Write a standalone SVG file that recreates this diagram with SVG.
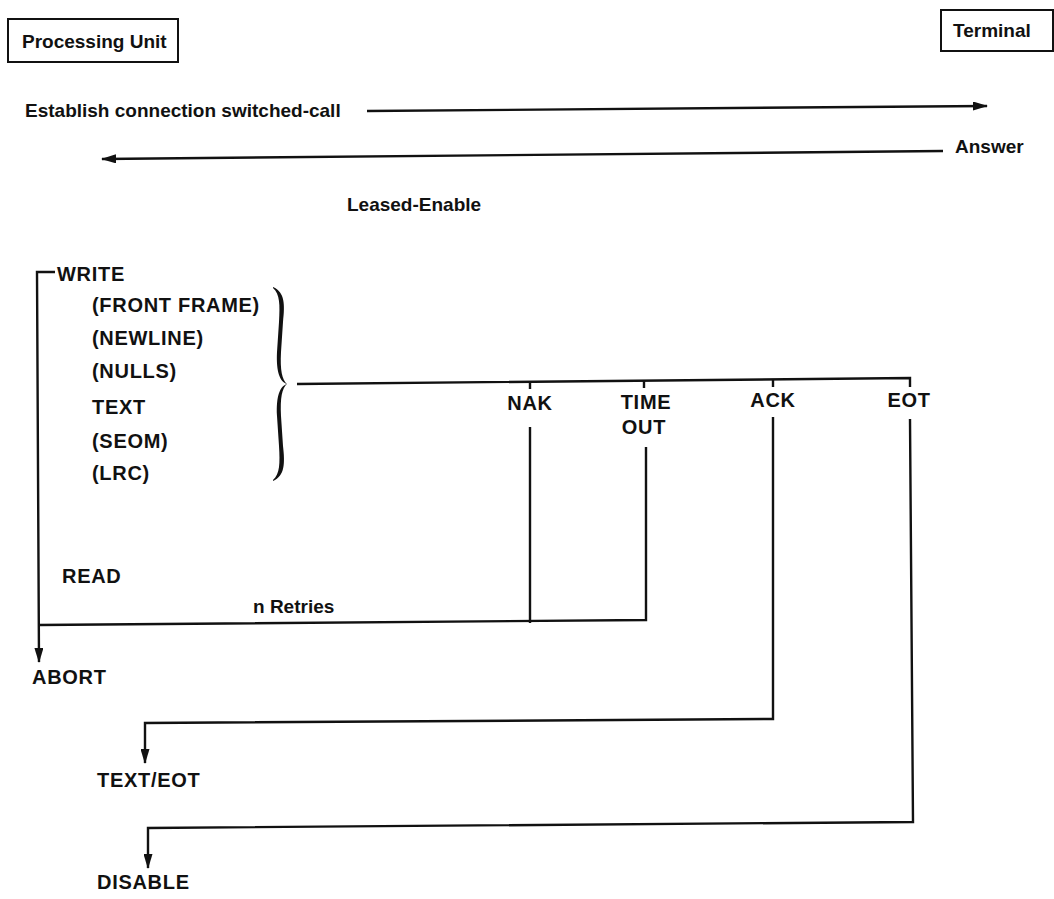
<svg xmlns="http://www.w3.org/2000/svg" width="1054" height="899" viewBox="0 0 1054 899">
<style>
.t{font-family:"Liberation Sans",Arial,Helvetica,sans-serif;font-weight:bold;font-size:19px;fill:#111}
.u{font-size:20px;letter-spacing:0.7px}
.c{text-anchor:middle}
.ln{fill:none;stroke:#111;stroke-width:2.4;stroke-linejoin:miter;stroke-linecap:butt}
.box{fill:#fff;stroke:#111;stroke-width:2}
</style>
<defs>
<marker id="ah" markerUnits="userSpaceOnUse" markerWidth="15" markerHeight="9" viewBox="0 0 15 9" refX="14" refY="4.5" orient="auto">
<path d="M0,0 L15,4.5 L0,9 Z" fill="#111"/>
</marker>
</defs>
<rect width="1054" height="899" fill="#fff"/>

<g id="processing-unit">
<rect class="box" x="8" y="19" width="170" height="43"/>
<text class="t" x="22" y="48">Processing Unit</text>
</g>
<g id="terminal">
<rect class="box" x="941" y="10" width="112" height="41"/>
<text class="t" x="953" y="37">Terminal</text>
</g>

<g id="labels">
<text class="t" x="25" y="117">Establish connection switched-call</text>
<text class="t" x="955" y="153">Answer</text>
<text class="t" x="347" y="211">Leased-Enable</text>
</g>

<g id="write">
<text class="t u" x="57" y="281">WRITE</text>
<text class="t u" x="92" y="312">(FRONT FRAME)</text>
<text class="t u" x="92" y="345">(NEWLINE)</text>
<text class="t u" x="92" y="378">(NULLS)</text>
<text class="t u" x="92" y="414">TEXT</text>
<text class="t u" x="92" y="448">(SEOM)</text>
<text class="t u" x="92" y="480">(LRC)</text>
</g>

<g id="brace">
<path id="brace-top" d="M273,287 C285,292 285,305 283,322 L281,352 C280,370 282,380 287,384 C280,382 276,372 277,352 L279,322 C280,305 280,294 273,288 Z" fill="#111"/>
<path d="M273,287 C285,292 285,305 283,322 L281,352 C280,370 282,380 287,384 C280,382 276,372 277,352 L279,322 C280,305 280,294 273,288 Z" fill="#111" transform="translate(0,768) scale(1,-1)"/>
</g>

<g id="read">
<text class="t u" x="62" y="583">READ</text>
<text class="t" x="253" y="613">n Retries</text>
</g>

<g id="nak"><text class="t u c" x="530" y="410">NAK</text></g>
<g id="timeout"><text class="t u c" x="646" y="409">TIME</text><text class="t u c" x="644" y="434">OUT</text></g>
<g id="ack"><text class="t u c" x="773" y="407">ACK</text></g>
<g id="eot"><text class="t u c" x="909" y="407">EOT</text></g>

<g id="abort"><text class="t u" x="32" y="684">ABORT</text></g>
<g id="text-eot"><text class="t u" x="97" y="787">TEXT/EOT</text></g>
<g id="disable"><text class="t u" x="97" y="889">DISABLE</text></g>

<g id="connectors">
<path class="ln" d="M367,111 L987,106" marker-end="url(#ah)"/>
<path class="ln" d="M943,151 L102,159" marker-end="url(#ah)"/>
<path class="ln" d="M55,272 L37,272 L39,662" marker-end="url(#ah)"/>
<path class="ln" d="M39,625 L646,620 L646,447"/>
<path class="ln" d="M530,427 L530,623"/>
<path class="ln" d="M297,384 L910,378 L910,387"/>
<path class="ln" d="M530,382 V389 M644,381 V388 M773,380 V387"/>
<path class="ln" d="M773,417 L773,719 L145,723 L145,763" marker-end="url(#ah)"/>
<path class="ln" d="M910,419 L913,822 L148,828 L148,868" marker-end="url(#ah)"/>
</g>
</svg>
